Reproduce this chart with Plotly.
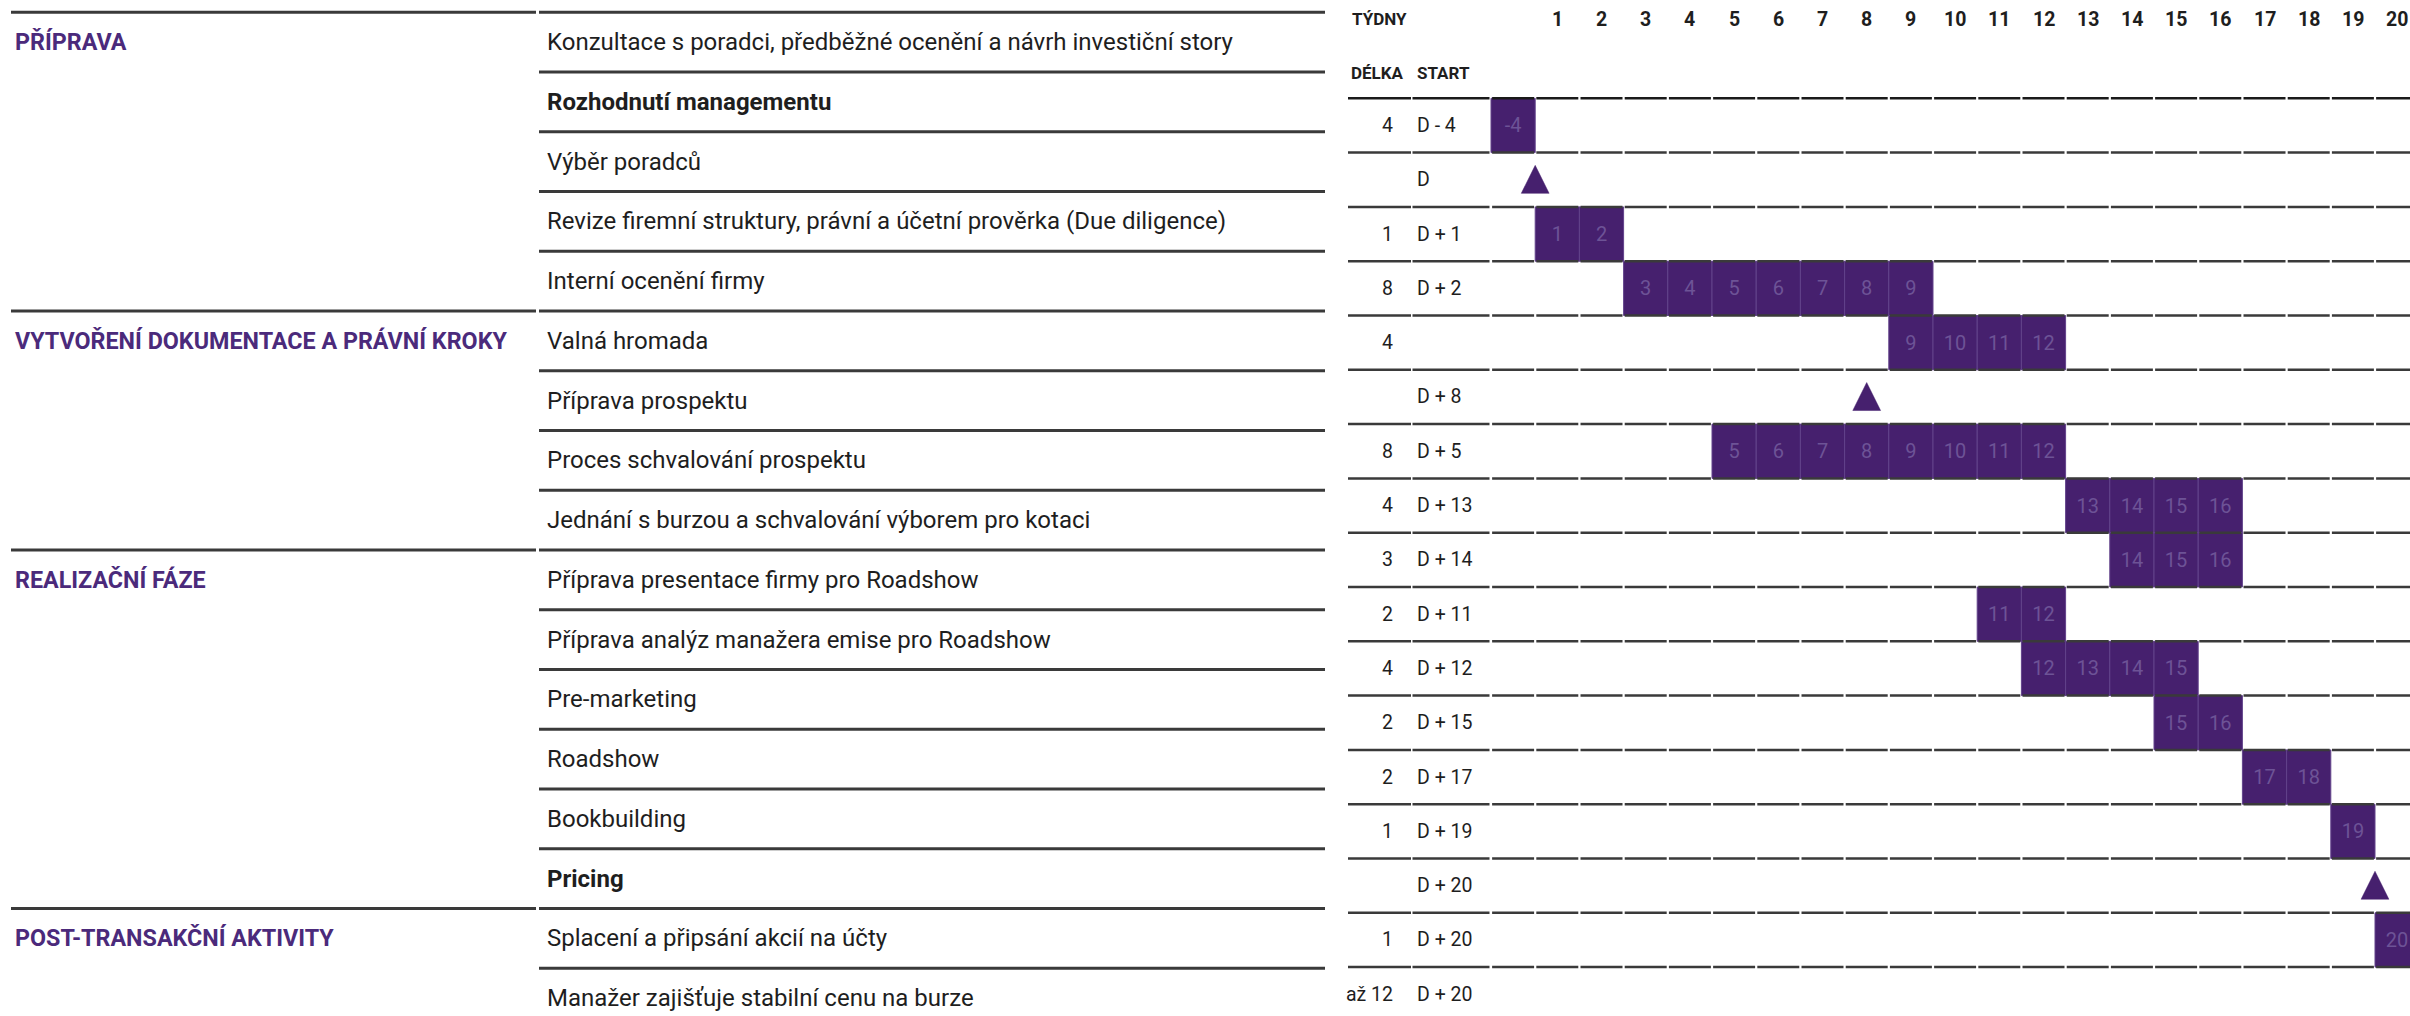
import plotly.graph_objects as go

# ---------------- data ----------------
sections = [
    "PŘÍPRAVA",
    "VYTVOŘENÍ DOKUMENTACE A PRÁVNÍ KROKY",
    "REALIZAČNÍ FÁZE",
    "POST-TRANSAKČNÍ AKTIVITY",
]
section_first_row = [0, 5, 9, 15]

activities = [
    "Konzultace s poradci, předběžné ocenění a návrh investiční story",
    "Rozhodnutí managementu",
    "Výběr poradců",
    "Revize firemní struktury, právní a účetní prověrka (Due diligence)",
    "Interní ocenění firmy",
    "Valná hromada",
    "Příprava prospektu",
    "Proces schvalování prospektu",
    "Jednání s burzou a schvalování výborem pro kotaci",
    "Příprava presentace firmy pro Roadshow",
    "Příprava analýz manažera emise pro Roadshow",
    "Pre-marketing",
    "Roadshow",
    "Bookbuilding",
    "Pricing",
    "Splacení a připsání akcií na účty",
    "Manažer zajišťuje stabilní cenu na burze",
]
bold_activities = ["Rozhodnutí managementu", "Pricing"]

week_columns = [-4] + list(range(1, 21))
week_header = [""] + [str(w) for w in range(1, 21)]

duration_labels = ["4", "", "1", "8", "4", "", "8", "4", "3", "2", "4", "2", "2", "1", "", "1", "až 12"]
start_labels = ["D - 4", "D", "D + 1", "D + 2", "", "D + 8", "D + 5", "D + 13", "D + 14",
                "D + 11", "D + 12", "D + 15", "D + 17", "D + 19", "D + 20", "D + 20", "D + 20"]

bar_first_week = [-4, None, 1, 3, 9, None, 5, 13, 14, 11, 12, 15, 17, 19, None, 20, None]
bar_last_week = [-4, None, 2, 9, 12, None, 12, 16, 16, 12, 15, 16, 18, 19, None, 20, None]

milestone_rows = [1, 5, 14]
milestone_pos = [1.0, 8.5, 20.0]   # position on the week-column axis

# ---------------- geometry / style ----------------
W, H = 2410, 1016
COL0_PX = 1491.0      # left edge of the first week column
COL_W = 44.2          # width of one week column
GANTT_TOP = 98.3      # first ruled line of the gantt grid
GANTT_ROW = 54.3
TABLE_TOP = 12.3
TABLE_ROW = 59.75

PURPLE = "#46206e"
PURPLE_TEXT = "#4b2a7b"
CELL_TEXT = "#6d5396"
CELL_EDGE = "#62428a"
INK = "#1e1e1e"
RULE = "#3a3a3a"
FONT = "Roboto, Lato, sans-serif"


def px_x(px):
    return (px - COL0_PX) / COL_W


def gantt_y(px):
    return (px - GANTT_TOP) / GANTT_ROW - 0.5


n_rows = len(activities)
fig = go.Figure()

# ---------------- gantt cells ----------------
cell_rows, cell_base, cell_text = [], [], []
for r, (a, b) in enumerate(zip(bar_first_week, bar_last_week)):
    if a is None:
        continue
    for w in week_columns:
        if a <= w <= b:
            cell_rows.append(r)
            cell_base.append(week_columns.index(w))
            cell_text.append(str(w))

fig.add_trace(go.Bar(
    orientation="h",
    y=cell_rows,
    x=[1] * len(cell_rows),
    base=cell_base,
    width=1,
    text=cell_text,
    textposition="inside",
    insidetextanchor="middle",
    textangle=0,
    constraintext="none",
    textfont=dict(family=FONT, size=20, color=CELL_TEXT),
    marker=dict(color=PURPLE, line=dict(color=CELL_EDGE, width=1)),
    hoverinfo="skip",
    showlegend=False,
))

# ---------------- milestones ----------------
tri_x, tri_y = [], []
half_w = 13.9 / COL_W
for r, p in zip(milestone_rows, milestone_pos):
    tri_x += [p - half_w, p + half_w, p, p - half_w, None]
    tri_y += [r + 0.25, r + 0.25, r - 0.265, r + 0.25, None]
fig.add_trace(go.Scatter(
    x=tri_x, y=tri_y, mode="lines", fill="toself", fillcolor=PURPLE,
    line=dict(color=PURPLE, width=0.5), hoverinfo="skip", showlegend=False,
))

# ---------------- gantt rules ----------------
segments = [(px_x(1348), px_x(1411)), (px_x(1412.5), px_x(1489.5))]
segments += [(c + 0.025, c + 0.975) for c in range(len(week_columns))]
for k in range(n_rows):
    gx, gy = [], []
    for s0, s1 in segments:
        gx += [s0, s1, None]
        gy += [k - 0.5, k - 0.5, None]
    fig.add_trace(go.Scatter(
        x=gx, y=gy, mode="lines",
        line=dict(color="#1a1a1a" if k == 0 else RULE, width=2.5),
        hoverinfo="skip", showlegend=False,
    ))

# ---------------- table rules ----------------
for k in range(n_rows):
    tx, ty = [], []
    if k in section_first_row:
        tx += [px_x(11), px_x(536), None]
        ty += [k - 0.5, k - 0.5, None]
    tx += [px_x(539), px_x(1325), None]
    ty += [k - 0.5, k - 0.5, None]
    fig.add_trace(go.Scatter(
        x=tx, y=ty, yaxis="y2", mode="lines",
        line=dict(color=RULE, width=3),
        hoverinfo="skip", showlegend=False,
    ))

annotations = []


def label(text, x, y, yref="y", size=20, color=INK, bold=False, anchor="left"):
    annotations.append(dict(
        text=text, x=x, y=y, xref="x", yref=yref, showarrow=False,
        xanchor=anchor, yanchor="middle",
        font=dict(family=FONT, size=size, color=color, weight="bold" if bold else "normal"),
    ))


# section captions and activity names
for name, r in zip(sections, section_first_row):
    label(name, px_x(13), r, yref="y2", size=23.3, color=PURPLE_TEXT, bold=True)
for r, name in enumerate(activities):
    label(name, px_x(545), r, yref="y2", size=24, bold=name in bold_activities)

# gantt headers
label("TÝDNY", px_x(1350), gantt_y(19), size=17, bold=True)
for c, t in enumerate(week_header):
    if t:
        label(t, c + 0.5, gantt_y(19), size=19.5, bold=True, anchor="center")
label("DÉLKA", px_x(1349), gantt_y(73), size=17, bold=True)
label("START", px_x(1415), gantt_y(73), size=17, bold=True)

# duration / start columns
for r, (d, s) in enumerate(zip(duration_labels, start_labels)):
    if d:
        label(d, px_x(1395), r, size=19.5, anchor="right")
    if s:
        label(s, px_x(1415), r, size=19.5)

fig.update_layout(
    width=W, height=H, autosize=False,
    margin=dict(l=0, r=0, t=0, b=0, pad=0),
    paper_bgcolor="white", plot_bgcolor="white",
    barmode="overlay",
    xaxis=dict(range=[px_x(0), px_x(W)], visible=False, fixedrange=True),
    yaxis=dict(range=[gantt_y(H), gantt_y(0)], visible=False, fixedrange=True),
    yaxis2=dict(range=[(H - TABLE_TOP) / TABLE_ROW - 0.5, -TABLE_TOP / TABLE_ROW - 0.5],
                overlaying="y", visible=False, fixedrange=True),
    annotations=annotations,
    showlegend=False,
    font=dict(family=FONT),
)

fig.write_html("out.html", config={"displayModeBar": False})
